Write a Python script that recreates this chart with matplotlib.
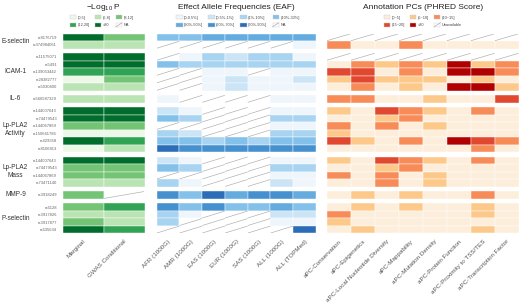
import numpy as np
import matplotlib
matplotlib.use("Agg")
import matplotlib.pyplot as plt
from matplotlib.patches import Patch, Rectangle
from matplotlib.lines import Line2D
from matplotlib.legend_handler import HandlerBase

plt.rcParams['font.family'] = ['Liberation Sans', 'DejaVu Sans']
plt.rcParams['mathtext.default'] = 'regular'

# ---- data -------------------------------------------------------------
groups = ["E-selectin", "ICAM-1", "IL-6", "Lp-PLA2\nActivity", "Lp-PLA2\nMass",
          "MMP-9", "P-selectin"]
group_sizes = [2, 5, 1, 6, 4, 1, 4]
snps = ["rs8176719", "rs374984061",
        "rs11575071", "rs5491", "rs139053442", "rs28382777", "rs5030400",
        "rs566587329",
        "rs144007643", "rs74479543", "rs144067869", "rs150641786", "rs429358", "rs8106813",
        "rs144007643", "rs74479543", "rs144067869", "rs73471140",
        "rs3918249",
        "rs6128", "rs3917826", "rs3917877", "rs635634"]

# category index per cell, -1 = NA / unavailable
logp_cols = ["Marginal", "GWAS Conditional"]
logp_levels = ["(0,5]", "(5,8]", "(8,12]", "(12,20]", ">20"]
logp = [[4, 2], [1, 1],
        [4, 4], [4, 4], [3, 3], [0, 2], [1, 1],
        [1, 1],
        [4, 4], [4, 4], [2, 2], [0, 0], [4, 3], [0, 1],
        [4, 4], [2, 2], [2, 2], [1, 1],
        [2, -1],
        [2, 3], [1, 1], [2, 1], [4, 3]]

eaf_cols = ["AFR (1000G)", "AMR (1000G)", "EAS (1000G)", "EUR (1000G)",
            "SAS (1000G)", "ALL (1000G)", "ALL (TOPMed)"]
eaf_levels = ["(0-0.5%]", "(0.5%-1%]", "(1%-10%]", "(10%-30%]",
              "(30%-50%]", "(50%-70%]", "(70%-90%]"]
eaf = [[3, 3, 4, 4, 4, 4, 4],
       [-1, -1, -1, -1, -1, -1, 0],
       [-1, 0, 2, 1, 2, 2, 0],
       [3, 2, 2, 2, 2, 2, 2],
       [-1, -1, 0, 0, -1, 0, 0],
       [-1, -1, 0, 1, 0, 0, 1],
       [-1, -1, 0, 1, 0, 0, 0],
       [0, -1, -1, -1, -1, 0, 0],
       [1, 0, -1, -1, -1, 0, 0],
       [3, 2, -1, -1, -1, 2, 2],
       [-1, -1, -1, -1, -1, 0, 0],
       [2, 1, -1, -1, -1, 2, 2],
       [3, 3, 2, 3, 2, 3, 3],
       [6, 5, 5, 5, 5, 5, 5],
       [1, 0, -1, -1, -1, 0, 0],
       [3, 2, -1, -1, -1, 2, 2],
       [-1, -1, -1, -1, -1, 0, 0],
       [2, 0, -1, -1, -1, 1, 0],
       [5, 3, 6, 4, 5, 5, 4],
       [5, 3, 5, 3, 3, 4, 3],
       [2, 0, -1, -1, -1, 1, 1],
       [2, -1, -1, -1, -1, 0, 0],
       [-1, -1, -1, -1, -1, -1, 6]]

apc_cols = ["aPC-Conservation", "aPC-Epigenetics", "aPC-Local Nucleotide Diversity",
            "aPC-Mappability", "aPC-Mutation Density", "aPC-Protein Function",
            "aPC-Proximity to TSS/TES", "aPC-Transcription Factor"]
apc_levels = ["(0~5]", "(5~10]", "(10~15]", "(15~20]", ">20"]
apc = [[-1] * 8,
       [2, 0, 0, 2, 0, 0, 0, 0],
       [-1] * 8,
       [0, 2, 1, 2, 1, 4, 1, 2],
       [3, 3, 0, 2, 0, 4, 4, 2],
       [1, 3, 1, 1, 1, 0, 1, 0],
       [0, 2, 0, 1, 0, 4, 4, 1],
       [2, 2, 0, 0, 1, 0, 0, 3],
       [1, 0, 3, 2, 1, 0, 2, 0],
       [0, 0, 1, 2, 0, 0, 0, 0],
       [2, 0, 2, 0, 1, 0, 0, 0],
       [1, 0, 0, 0, 0, 0, 0, 0],
       [3, 1, 0, 2, 0, 4, 3, 2],
       [0, 0, 0, 0, 0, 0, 2, 0],
       [1, 0, 3, 2, 1, 0, 2, 0],
       [0, 0, 1, 2, 0, 0, 0, 0],
       [2, 0, 2, 0, 1, 0, 0, 0],
       [0, 0, 2, 0, 1, 0, 0, 0],
       [0, 1, 0, 1, 0, 0, 2, 0],
       [0, 1, 0, 1, 0, 0, 1, 0],
       [2, 0, 0, 0, 0, 0, 1, 0],
       [1, 0, 0, 0, 0, 0, 0, 0],
       [0, 1, 0, 0, 0, 0, 1, 0]]

green = ["#edf8e9", "#bae4b3", "#74c476", "#31a354", "#006d2c"]
blue = ["#eef6fc", "#cbe4f6", "#a8d4f1", "#84c1ea", "#64abe0", "#4591d0", "#2c6db8"]
orange = ["#fdeedb", "#fdc98b", "#f88c59", "#e0492f", "#b10000"]
NA_LINE = "#ababab"

# ---- row layout (groups separated by a gap) ---------------------------
GAP = 0.6
ypos = []
y = 0.0
group_mid = []
for n in group_sizes:
    start = y
    for k in range(n):
        ypos.append(y)
        y += 1
    group_mid.append((start + y) / 2)
    y += GAP
total = y - GAP
ypos = np.array(ypos)


class NAHandler(HandlerBase):
    def create_artists(self, legend, orig_handle, xdescent, ydescent,
                       width, height, fontsize, trans):
        r = Rectangle((-xdescent, -ydescent), width, height, facecolor="white",
                      edgecolor="#cccccc", lw=0.3, transform=trans)
        l = Line2D([-xdescent, -xdescent + width], [-ydescent, -ydescent + height],
                   color=NA_LINE, lw=0.5, transform=trans)
        return [r, l]


def draw_panel(ax, codes, colors, xlabels):
    codes = np.array(codes)
    nrow, ncol = codes.shape
    for j in range(ncol):
        col = codes[:, j]
        fc = [colors[c] if c >= 0 else "white" for c in col]
        ax.bar(np.full(nrow, j + 0.5), np.ones(nrow), width=1, bottom=ypos,
               color=fc, edgecolor="white", linewidth=0.3)
        for i in np.where(col < 0)[0]:
            ax.plot([j + 0.02, j + 0.98], [ypos[i] + 0.95, ypos[i] + 0.05],
                    color=NA_LINE, lw=0.45)
    ax.set_xlim(0, ncol)
    ax.set_ylim(total, 0)
    ax.set_xticks(np.arange(ncol) + 0.5)
    ax.set_xticklabels(xlabels, rotation=45, ha="right", va="top",
                       rotation_mode="anchor", fontsize=4.5, color="#555555")
    ax.tick_params(length=0, pad=4)
    ax.set_yticks([])
    for s in ax.spines.values():
        s.set_visible(False)


def add_legend(fig, levels, colors, ncol, xc, na_label):
    handles = [Patch(facecolor=c, edgecolor="#cccccc", lw=0.3) for c in colors]
    na_handle = Patch()
    handles.append(na_handle)
    labels = list(levels) + [na_label]
    nrow = 2
    order = [r * ncol + c for c in range(ncol) for r in range(nrow)]
    h = [handles[i] for i in order]
    lab = [labels[i] for i in order]
    leg = fig.legend(h, lab, loc="center", bbox_to_anchor=(xc, 0.93), ncol=ncol,
                     frameon=False, fontsize=2.8, handlelength=1.6, handleheight=1.2,
                     handletextpad=0.4, columnspacing=1.3, labelspacing=0.8,
                     borderpad=0, handler_map={na_handle: NAHandler()})
    for t in leg.get_texts():
        t.set_color("#444444")
    return leg


fig = plt.figure(figsize=(5.2, 3.03), dpi=100)
bottom, height = 1 - 233.3 / 303, 199.8 / 303
ax1 = fig.add_axes([62.5 / 520, bottom, 82 / 520, height])
ax2 = fig.add_axes([156.7 / 520, bottom, 159.3 / 520, height])
ax3 = fig.add_axes([326.7 / 520, bottom, 192 / 520, height])

draw_panel(ax1, logp, green, logp_cols)
draw_panel(ax2, eaf, blue, eaf_cols)
draw_panel(ax3, apc, orange, apc_cols)

# snp labels
ax1.set_yticks(ypos + 0.5)
ax1.set_yticklabels(snps, fontsize=3.0, color="#666666")
ax1.tick_params(axis="y", length=0, pad=4)

# group labels
for g, m in zip(groups, group_mid):
    yf = ax1.transData.transform((0, m))
    yf = fig.transFigure.inverted().transform(yf)[1]
    fig.text(15.5 / 520, yf, g, ha="center", va="center", fontsize=4.7,
             color="#333333", linespacing=1.1)

# panel titles
for ax, title in [(ax1, "\u2212Log$_{10}$ P"),
                  (ax2, "Effect Allele Frequencies (EAF)"),
                  (ax3, "Annotation PCs (PHRED Score)")]:
    pos = ax.get_position()
    fig.text((pos.x0 + pos.x1) / 2, 1 - 7.5 / 303, title, ha="center", va="center",
             fontsize=6, color="#222222")

add_legend(fig, logp_levels, green, 3, 102 / 520, "NA")
add_legend(fig, eaf_levels, blue, 4, 238 / 520, "NA")
add_legend(fig, apc_levels, orange, 3, 423 / 520, "Unavailable")

fig.savefig("out.png", dpi=100)
